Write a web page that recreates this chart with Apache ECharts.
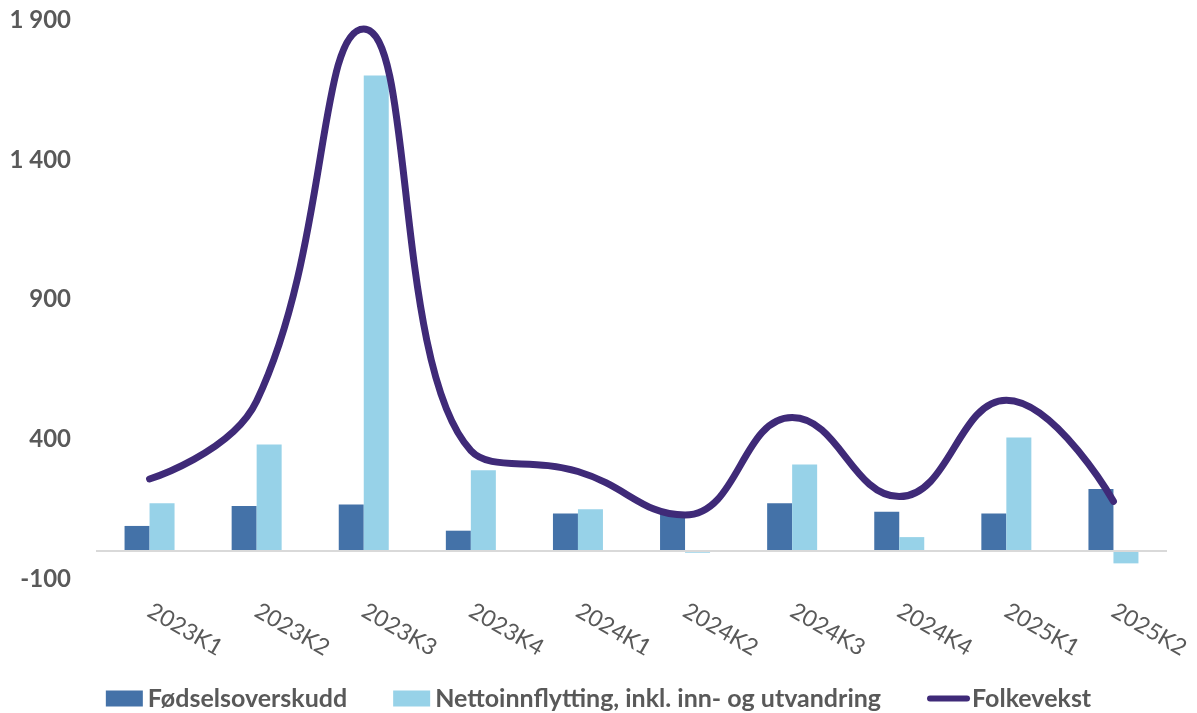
<!DOCTYPE html>
<html>
<head>
<meta charset="utf-8">
<script src="https://cdn.jsdelivr.net/npm/echarts@6/dist/echarts.min.js"></script>
<style>
  html, body { margin: 0; padding: 0; background: #ffffff; }
  #chart { width: 1197px; height: 713px; }
</style>
</head>
<body>
<div id="chart"></div>
<script>
// Quarters on the category axis
const quarters = ['2023K1', '2023K2', '2023K3', '2023K4', '2024K1', '2024K2', '2024K3', '2024K4', '2025K1', '2025K2'];
// Natural increase (births minus deaths)
const fodselsoverskudd = [90, 161, 167, 73, 135, 135, 171, 141, 135, 222];
// Net migration, including immigration and emigration
const nettoinnflytting = [171, 382, 1703, 289, 150, -6, 310, 50, 407, -44];
// Total population growth
const folkevekst = [258, 537, 1870, 360, 285, 129, 478, 195, 540, 178];
// Value-axis ticks
const yTicks = [-100, 400, 900, 1400, 1900];

const seriesNames = ['Fødselsoverskudd', 'Nettoinnflytting, inkl. inn- og utvandring', 'Folkevekst'];
const textColor = '#595959';
const fontFamily = 'Lato, "Open Sans", sans-serif';

const chart = echarts.init(document.getElementById('chart'), null, { renderer: 'canvas' });

chart.setOption({
  animation: false,
  backgroundColor: '#ffffff',
  grid: { left: 96, right: 30, top: 20.5, bottom: 134, containLabel: false },
  legend: {
    top: 681,
    left: 'center',
    itemWidth: 37,
    itemHeight: 16,
    itemGap: 46,
    textStyle: { color: textColor, fontFamily: fontFamily, fontWeight: 'bold', fontSize: 25 },
    data: [
      { name: seriesNames[0], icon: 'rect' },
      { name: seriesNames[1], icon: 'rect' },
      // line-only key: hide the marker drawn on top of the line sample
      { name: seriesNames[2], itemStyle: { opacity: 0 }, lineStyle: { width: 6, color: '#3f2a78' } }
    ]
  },
  xAxis: {
    type: 'category',
    data: quarters,
    axisLine: { show: false, onZero: false },
    axisTick: { show: false },
    axisLabel: {
      rotate: -30,
      margin: 30,
      color: textColor,
      fontFamily: fontFamily,
      fontSize: 23,
      interval: 0
    }
  },
  yAxis: {
    type: 'value',
    min: yTicks[0],
    max: yTicks[yTicks.length - 1],
    interval: yTicks[1] - yTicks[0],
    axisLine: { show: false },
    axisTick: { show: false },
    splitLine: { show: false },
    axisLabel: {
      margin: 25,
      color: textColor,
      fontFamily: fontFamily,
      fontWeight: 'bold',
      fontSize: 24,
      formatter: function (v) {
        const s = String(Math.abs(v)).replace(/\B(?=(\d{3})+(?!\d))/g, ' ');
        return (v < 0 ? '-' : '') + s;
      }
    }
  },
  series: [
    {
      name: seriesNames[0],
      type: 'bar',
      data: fodselsoverskudd,
      barWidth: 25,
      barGap: '0%',
      itemStyle: { color: '#4472a8' },
      markLine: {
        silent: true,
        symbol: 'none',
        label: { show: false },
        lineStyle: { color: '#d9d9d9', width: 2, type: 'solid' },
        data: [{ yAxis: 0 }]
      },
      z: 2
    },
    {
      name: seriesNames[1],
      type: 'bar',
      data: nettoinnflytting,
      barWidth: 25,
      barGap: '0%',
      itemStyle: { color: '#97d2e8' },
      z: 2
    },
    {
      name: seriesNames[2],
      type: 'line',
      data: folkevekst,
      smooth: 0.45,
      showSymbol: false,
      symbol: 'none',
      lineStyle: { color: '#3f2a78', width: 7, cap: 'round' },
      itemStyle: { color: '#3f2a78' },
      z: 5
    }
  ]
});
</script>
</body>
</html>
